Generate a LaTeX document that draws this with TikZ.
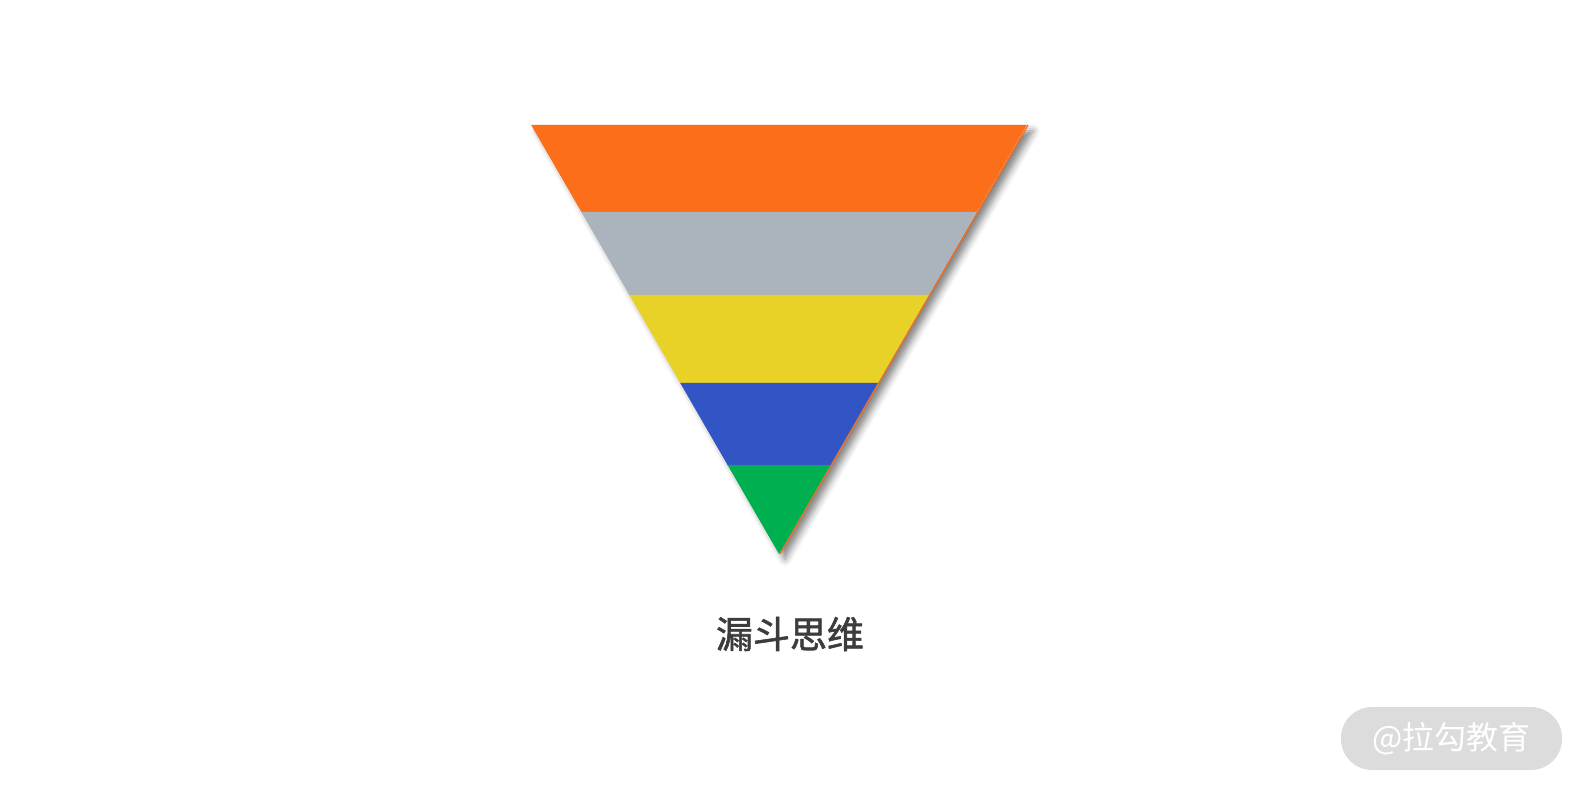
\documentclass[tikz,border=0pt]{standalone}
\usepackage{fontspec}
\usepackage{tikz}
\usetikzlibrary{shadows.blur}
\newfontfamily\cjk{Noto Sans CJK SC}
\newfontfamily\cjkmid[FakeBold=1.6]{Noto Sans CJK SC}

\definecolor{funOrange}{HTML}{FC6E1A}
\definecolor{funGray}{HTML}{ABB3BC}
\definecolor{funYellow}{HTML}{E8D227}
\definecolor{funBlue}{HTML}{3254C5}
\definecolor{funGreen}{HTML}{00AF50}
\definecolor{titleText}{HTML}{3C3C3C}
\definecolor{markFill}{HTML}{DCDCDC}

\tikzset{
  funnel/.style={blur shadow={shadow xshift=3pt, shadow yshift=-3pt, shadow blur radius=3.5pt, shadow opacity=50}},
  title/.style={font=\cjkmid\fontsize{18.5pt}{22pt}\selectfont, text=titleText},
  watermark/.style={rounded corners=15.5pt, fill=markFill, minimum width=110.5pt, minimum height=31.5pt, inner sep=0pt, font=\cjk\fontsize{16pt}{19pt}\selectfont, text=white}
}

\begin{document}
\begin{tikzpicture}[x=0.5pt, y=-0.5pt]
			\useasboundingbox (0,0) rectangle (1586,791);
			% funnel outline with shadow
			\coordinate (tl) at (531,125);
			\coordinate (tr) at (1027,125);
			\coordinate (apex) at (779,554);
			\fill[white, funnel] ([xshift=0.5pt]tl) -- (tr) -- ([yshift=0.5pt]apex) -- cycle;
			\draw[funOrange, line width=0.6pt] ([xshift=0.5pt]tr) -- ([xshift=0.5pt]apex);
			% bands
			\foreach \ya/\yb/\col in {125/212.5/funOrange, 212/295.5/funGray, 295/383.5/funYellow, 383/465.5/funBlue, 465/554/funGreen}{
				\pgfmathsetmacro{\la}{779-(554-\ya)*0.5777}
				\pgfmathsetmacro{\ra}{779+(554-\ya)*0.5777}
				\pgfmathsetmacro{\lb}{779-(554-\yb)*0.5777}
				\pgfmathsetmacro{\rb}{779+(554-\yb)*0.5777}
				\fill[\col] (\la,\ya) -- (\ra,\ya) -- (\rb,\yb) -- (\lb,\yb) -- cycle;
			}
			\node[title] (name) at (790,634) {漏斗思维};
			\node[watermark] (mark) at (1451.5,738.5) {@拉勾教育};
		\end{tikzpicture}
\end{document}
